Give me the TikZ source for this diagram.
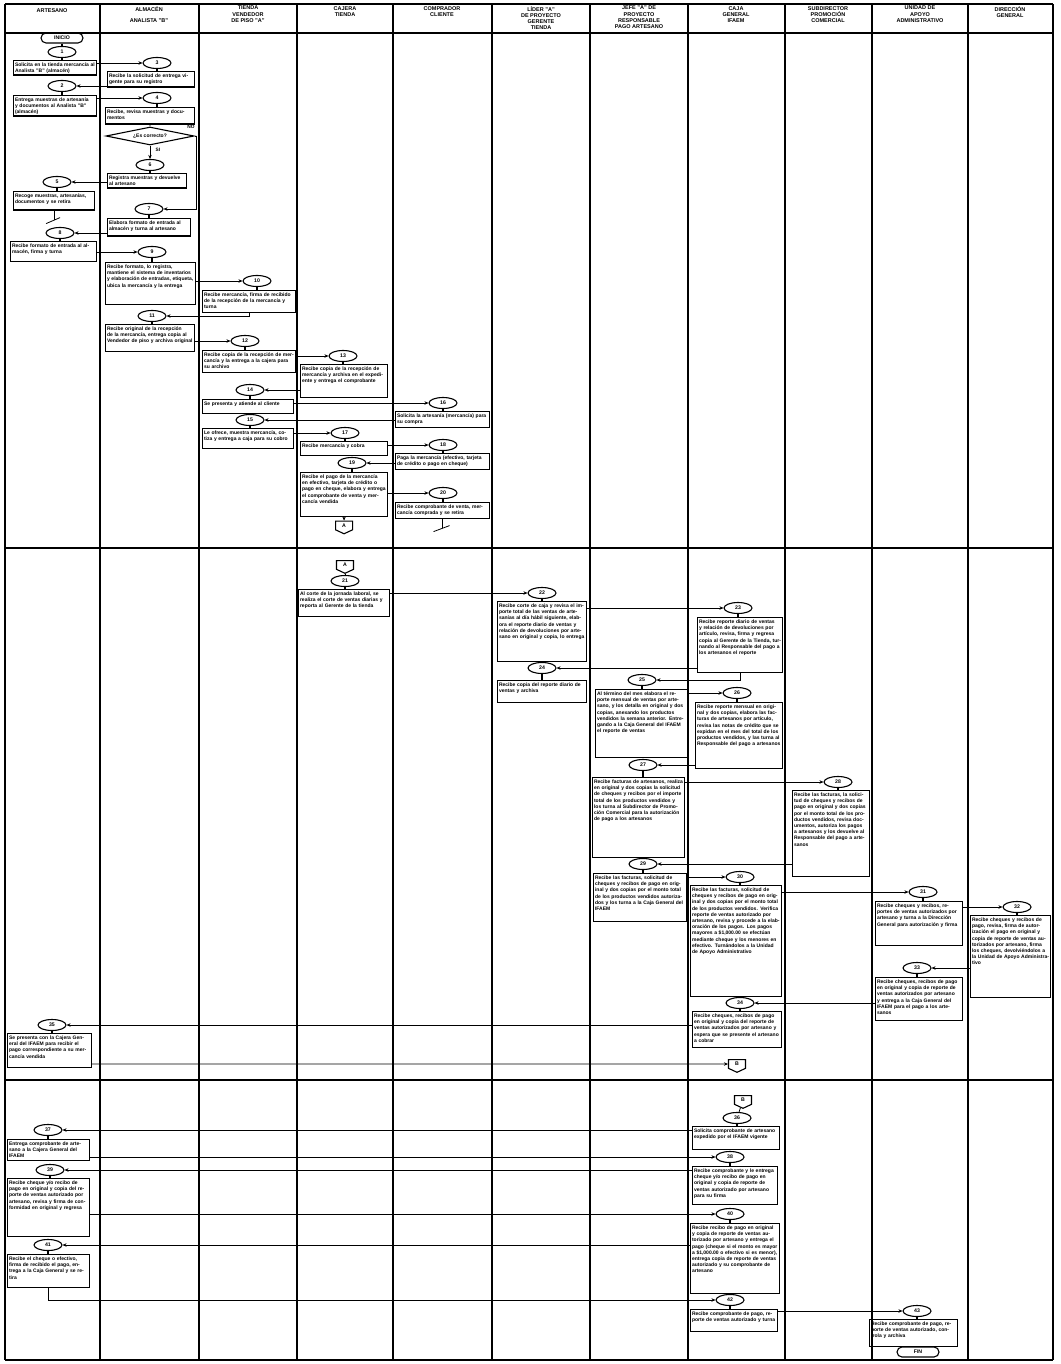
\documentclass[tikz,border=0pt]{standalone}
\usepackage{fontspec}
\setmainfont{Liberation Sans}
\usetikzlibrary{arrows.meta, positioning, shapes.geometric, shapes.symbols}

\begin{document}
\begin{tikzpicture}[
    x=1pt, y=-1pt,
    >={Stealth[length=4pt, width=3.5pt]},
    lane/.style={line width=1.2pt},
    sect/.style={line width=1.9pt},
    head/.style={anchor=north, align=center, inner sep=0pt,
                 font=\fontsize{5.5}{6.3}\selectfont\bfseries},
    num/.style={draw, ellipse, line width=1.1pt, minimum width=28pt,
                minimum height=11pt, inner sep=0pt,
                font=\fontsize{5.2}{5.2}\selectfont\bfseries},
    proc/.style={draw, line width=1.1pt, anchor=north west, align=left,
                 inner sep=1.5pt, text height=4.5pt,
                 font=\fontsize{5}{6.2}\selectfont\bfseries},
    bh/.style={text depth=#1},
    term/.style={draw, line width=1.1pt, rounded corners=5pt, minimum width=42pt,
                 minimum height=10pt, inner sep=0pt,
                 font=\fontsize{5.2}{5.2}\selectfont\bfseries},
    offp/.style={draw, line width=1.1pt, signal, signal to=south,
                 signal pointer angle=130, minimum width=17pt,
                 minimum height=10pt, inner sep=1pt,
                 font=\fontsize{5.2}{5.2}\selectfont\bfseries},
    lbl/.style={font=\fontsize{4.8}{5}\selectfont\bfseries, inner sep=0pt},
    tab/.style={line width=2pt},
    flow/.style={->, line width=0.8pt}
  ]
  \useasboundingbox (0,0) rectangle (1060,1364);

  % Lanes and headers
  \foreach \x in {5,100,199,297,393,492,590,688,785,872,968,1053}
    \draw[lane] (\x,4) -- (\x,1360);
  \draw[lane] (5,4) -- (1053,4);
  \draw[lane] (5,33) -- (1053,33);
  \draw[sect] (5,548) -- (1053,548);
  \draw[sect] (5,1080) -- (1053,1080);
  \draw[lane] (5,1360) -- (1053,1360);
  \foreach \i/\x/\t in {
    1/52/{\\ARTESANO}, 2/149/{ALMACÉN\\[5pt]ANALISTA "B"},
    3/248/{TIENDA\\VENDEDOR\\DE PISO "A"}, 4/345/{CAJERA\\TIENDA},
    5/442/{COMPRADOR\\CLIENTE}, 6/541/{LÍDER "A"\\DE PROYECTO\\GERENTE\\TIENDA},
    7/639/{JEFE "A" DE\\PROYECTO\\RESPONSABLE\\PAGO ARTESANO},
    8/736/{CAJA\\GENERAL\\IFAEM}, 9/828/{SUBDIRECTOR\\PROMOCIÓN\\COMERCIAL},
    10/920/{UNIDAD DE\\APOYO\\ADMINISTRATIVO}, 11/1010/{DIRECCIÓN\\GENERAL}} {
    \node[head] (h\i) at (\x,6) {\t};
  }

  % Recepcion de mercancia
  \node[term] (ini) at (62,38) {INICIO};
  \node[num] (c1) at (62,52) {1};
  \node[proc, text width=80pt, bh=7pt] (b1) at (13,60)
    {Solicita en la tienda mercancía al Analista "B" (almacén)};
  \node[num] (c3) at (157,63) {3};
  \node[proc, text width=84pt, bh=8pt] (b3) at (107,71)
    {Recibe la solicitud de entrega vigente para su registro};
  \node[num] (c2) at (62,86) {2};
  \node[proc, text width=80pt, bh=13pt] (b2) at (13,95)
    {Entrega muestras de artesanía y documentos al Analista "B" (almacén)};
  \node[num] (c4) at (157,98) {4};
  \node[proc, text width=86pt, bh=9pt] (b4) at (105,107)
    {Recibe, revisa muestras y documentos};
  \node[draw, diamond, aspect=5, line width=1.1pt, minimum width=88pt,
        minimum height=18pt, inner sep=0pt, font=\fontsize{5}{5}\selectfont\bfseries]
    (d) at (150,136) {¿Es correcto?};
  \node[lbl] (no) at (191,127) {NO};
  \node[lbl] (si) at (158,150) {SI};
  \node[num] (c6) at (150,165) {6};
  \node[proc, text width=76pt, bh=7pt] (b6) at (107,173)
    {Registra muestras y devuelve al artesano};
  \node[num] (c5) at (57,182) {5};
  \node[proc, text width=78pt, bh=11pt] (b5) at (13,191)
    {Recoge muestras, artesanías, documentos y se retira};
  \node[num] (c7) at (149,209) {7};
  \node[proc, text width=80pt, bh=10pt] (b7) at (107,218)
    {Elabora formato de entrada al almacén y turna al artesano};
  \node[num] (c8) at (60,233) {8};
  \node[proc, text width=83pt, bh=12pt] (b8) at (10,241)
    {Recibe formato de entrada al almacén, firma y turna};
  \node[num] (c9) at (152,252) {9};
  \node[proc, text width=87pt, bh=34pt] (b9) at (105,262)
    {Recibe formato, lo registra, mantiene el sistema de inventarios y
     elaboración de entradas, etiqueta, ubica la mercancía y la entrega};
  \node[num] (c10) at (257,281) {10};
  \node[proc, text width=90pt, bh=14pt] (b10) at (202,290)
    {Recibe mercancía, firma de recibido de la recepción de la mercancía y turna};
  \node[num] (c11) at (152,316) {11};
  \node[proc, text width=86pt, bh=19pt] (b11) at (105,324)
    {Recibe original de la recepción de la mercancía, entrega copia al
     Vendedor de piso y archiva original};
  \node[num] (c12) at (245,341) {12};
  \node[proc, text width=90pt, bh=14pt] (b12) at (202,350)
    {Recibe copia de la recepción de mercancía y la entrega a la cajera
     para su archivo};
  \node[num] (c13) at (343,356) {13};
  \node[proc, text width=84pt, bh=25pt] (b13) at (300,364)
    {Recibe copia de la recepción de mercancía y archiva en el expediente
     y entrega el comprobante};

  % Venta en tienda
  \node[num] (c14) at (250,390) {14};
  \node[proc, text width=88pt, bh=6pt] (b14) at (202,399)
    {Se presenta y atiende al cliente};
  \node[num] (c16) at (443,403) {16};
  \node[proc, text width=91pt, bh=8pt] (b16) at (395,411)
    {Solicita la artesanía (mercancía) para su compra};
  \node[num] (c15) at (250,420) {15};
  \node[proc, text width=88pt, bh=12pt] (b15) at (202,428)
    {Le ofrece, muestra mercancía, cotiza y entrega a caja para su cobro};
  \node[num] (c17) at (345,433) {17};
  \node[proc, text width=84pt, bh=6pt] (b17) at (300,441)
    {Recibe mercancía y cobra};
  \node[num] (c18) at (443,445) {18};
  \node[proc, text width=91pt, bh=8pt] (b18) at (395,453)
    {Paga la mercancía (efectivo, tarjeta de crédito o pago en cheque)};
  \node[num] (c19) at (352,463) {19};
  \node[proc, text width=84pt, bh=36pt] (b19) at (300,472)
    {Recibe el pago de la mercancía en efectivo, tarjeta de crédito o pago
     en cheque, elabora y entrega el comprobante de venta y mercancía vendida};
  \node[num] (c20) at (443,493) {20};
  \node[proc, text width=91pt, bh=8pt] (b20) at (395,502)
    {Recibe comprobante de venta, mercancía comprada y se retira};
  \node[offp, below=4pt of b19] (offA1) {A};

  % Corte y reportes
  \node[offp] (offA2) at (345,565) {A};
  \node[num] (c21) at (345,581) {21};
  \node[proc, text width=88pt, bh=19pt] (b21) at (298,589)
    {Al corte de la jornada laboral, se realiza el corte de ventas diarias
     y reporta al Gerente de la tienda};
  \node[num] (c22) at (542,593) {22};
  \node[proc, text width=86pt, bh=52pt] (b22) at (497,601)
    {Recibe corte de caja y revisa el importe total de las ventas de
     artesanías al día hábil siguiente, elabora el reporte diario de ventas
     y relación de devoluciones por artesano en original y copia, lo entrega};
  \node[num] (c23) at (738,608) {23};
  \node[proc, text width=82pt, bh=47pt] (b23) at (697,617)
    {Recibe reporte diario de ventas y relación de devoluciones por
     artículo, revisa, firma y regresa copia al Gerente de la Tienda,
     turnando al Responsable del pago a los artesanos el reporte};
  \node[num] (c24) at (542,668) {24};
  \node[proc, text width=86pt, bh=14pt] (b24) at (497,680)
    {Recibe copia del reporte diario de ventas y archiva};
  \node[num] (c25) at (642,680) {25};
  \node[proc, text width=89pt, bh=60pt] (b25) at (595,689)
    {Al término del mes elabora el reporte mensual de ventas por artesano,
     y los detalla en original y dos copias, anexando los productos
     vendidos la semana anterior. Entregando a la Caja General del IFAEM
     el reporte de ventas};
  \node[num] (c26) at (737,693) {26};
  \node[proc, text width=84pt, bh=58pt] (b26) at (695,702)
    {Recibe reporte mensual en original y dos copias, elabora las facturas
     de artesanos por artículo, revisa las notas de crédito que se expidan
     en el mes del total de los productos vendidos, y las turna al
     Responsable del pago a artesanos};
  \node[num] (c27) at (643,765) {27};
  \node[proc, text width=89pt, bh=72pt] (b27) at (592,777)
    {Recibe facturas de artesanos, realiza en original y dos copias la
     solicitud de cheques y recibos por el importe total de los productos
     vendidos y los turna al Subdirector de Promoción Comercial para la
     autorización de pago a los artesanos};
  \node[num] (c28) at (838,782) {28};
  \node[proc, text width=74pt, bh=78pt] (b28) at (792,790)
    {Recibe las facturas, la solicitud de cheques y recibos de pago en
     original y dos copias por el monto total de los productos vendidos,
     revisa documentos, autoriza los pagos a artesanos y los devuelve al
     Responsable del pago a artesanos};
  \node[num] (c29) at (643,864) {29};
  \node[proc, text width=90pt, bh=40pt] (b29) at (593,873)
    {Recibe las facturas, solicitud de cheques y recibos de pago en
     original y dos copias por el monto total de los productos vendidos
     autorizados y los turna a la Caja General del IFAEM};
  \node[num] (c30) at (740,877) {30};
  \node[proc, text width=88pt, bh=103pt] (b30) at (690,885)
    {Recibe las facturas, solicitud de cheques y recibos de pago en
     original y dos copias por el monto total de los productos vendidos.
     Verifica reporte de ventas autorizado por artesano, revisa y procede
     a la elaboración de los pagos. Los pagos mayores a \$1,000.00 se
     efectúan mediante cheque y los menores en efectivo. Turnándolos a la
     Unidad de Apoyo Administrativo};
  \node[num] (c31) at (923,892) {31};
  \node[proc, text width=84pt, bh=36pt] (b31) at (875,901)
    {Recibe cheques y recibos, reportes de ventas autorizados por artesano
     y turna a la Dirección General para autorización y firma};
  \node[num] (c32) at (1017,907) {32};
  \node[proc, text width=77pt, bh=74pt] (b32) at (970,915)
    {Recibe cheques y recibos de pago, revisa, firma de autorización el
     pago en original y copia de reporte de ventas autorizados por
     artesano, firma los cheques, devolviéndolos a la Unidad de Apoyo
     Administrativo};
  \node[num] (c33) at (917,968) {33};
  \node[proc, text width=84pt, bh=35pt] (b33) at (875,977)
    {Recibe cheques, recibos de pago en original y copia de reporte de
     ventas autorizados por artesano y entrega a la Caja General del
     IFAEM para el pago a los artesanos};
  \node[num] (c34) at (740,1003) {34};
  \node[proc, text width=86pt, bh=28pt] (b34) at (692,1011)
    {Recibe cheques, recibos de pago en original y copia del reporte de
     ventas autorizados por artesano y espera que se presente el artesano
     a cobrar};
  \node[num] (c35) at (52,1025) {35};
  \node[proc, text width=81pt, bh=26pt] (b35) at (7,1033)
    {Se presenta con la Cajera General del IFAEM para recibir el pago
     correspondiente a su mercancía vendida};
  \node[offp] (offB1) at (737,1064) {B};

  % Pago al artesano
  \node[offp] (offB2) at (743,1100) {B};
  \node[num] (c36) at (737,1118) {36};
  \node[proc, text width=84pt, bh=15pt] (b36) at (692,1126)
    {Solicita comprobante de artesano expedido por el IFAEM vigente};
  \node[num] (c37) at (48,1130) {37};
  \node[proc, text width=79pt, bh=13pt] (b37) at (7,1139)
    {Entrega comprobante de artesano a la Cajera General del IFAEM};
  \node[num] (c38) at (730,1157) {38};
  \node[proc, text width=82pt, bh=30pt] (b38) at (692,1166)
    {Recibe comprobante y le entrega cheque y/o recibo de pago en original
     y copia de reporte de ventas autorizado por artesano para su firma};
  \node[num] (c39) at (50,1170) {39};
  \node[proc, text width=79pt, bh=50pt] (b39) at (7,1178)
    {Recibe cheque y/o recibo de pago en original y copia del reporte de
     ventas autorizado por artesano, revisa y firma de conformidad en
     original y regresa};
  \node[num] (c40) at (730,1214) {40};
  \node[proc, text width=86pt, bh=62pt] (b40) at (690,1223)
    {Recibe recibo de pago en original y copia de reporte de ventas
     autorizado por artesano y entrega el pago (cheque si el monto es mayor
     a \$1,000.00 o efectivo si es menor), entrega copia de reporte de
     ventas autorizado y su comprobante de artesano};
  \node[num] (c41) at (48,1245) {41};
  \node[proc, text width=79pt, bh=25pt] (b41) at (7,1254)
    {Recibe el cheque o efectivo, firma de recibido el pago, entrega a la
     Caja General y se retira};
  \node[num] (c42) at (730,1300) {42};
  \node[proc, text width=84pt, bh=14pt] (b42) at (690,1309)
    {Recibe comprobante de pago, reporte de ventas autorizado y turna};
  \node[num] (c43) at (917,1311) {43};
  \node[proc, text width=85pt, bh=19pt] (b43) at (869,1319)
    {Recibe comprobante de pago, reporte de ventas autorizado, controla y
     archiva};
  \node[term] (fin) at (918,1352) {FIN};

  % Tabs under the step numbers
  \draw[tab] (ini) -- (c1);
  \foreach \n in {1,...,43}
    \draw[tab] (c\n.south) -- (c\n.south |- b\n.north);

  % Flow
  \draw[flow] (b1.east |- c3) -- (c3);
  \draw[flow] (b3.west |- c2) -- (c2);
  \draw[flow] (b2.east |- c4) -- (c4);
  \draw[line width=0.8pt] (b4.south) -- (d.north);
  \draw[flow] (d.south) -- (c6);
  \draw[flow] (d.east) -- ++(2,0) |- (c7);
  \draw[flow] (b6.west |- c5) -- (c5);
  \draw[flow] (b7.west |- c8) -- (c8);
  \draw[flow] (b8.east |- c9) -- (c9);
  \draw[flow] (b9.east |- c10) -- (c10);
  \draw[flow] (b10.south) |- (c11);
  \draw[flow] (b11.east |- c12) -- (c12);
  \draw[flow] (b12.east |- c13) -- (c13);
  \draw[flow] (b13.west |- c14) -- (c14);
  \draw[flow] (b14.east |- c16) -- (c16);
  \draw[flow] (b16.west |- c15) -- (c15);
  \draw[flow] (b15.east |- c17) -- (c17);
  \draw[flow] (b17.east |- c18) -- (c18);
  \draw[flow] (b18.west |- c19) -- (c19);
  \draw[flow] (b19.east |- c20) -- (c20);
  \draw[flow] (b19.south) -- (offA1);
  \draw[line width=0.8pt] (offA2) -- (c21);
  \draw[flow] (b21.east |- c22) -- (c22);
  \draw[flow] (b22.east |- c23) -- (c23);
  \draw[flow] (b23.west |- c24) -- (c24);
  \draw[flow] (b23.south) |- (c25);
  \draw[flow] (b25.east |- c26) -- (c26);
  \draw[flow] (b26.west |- c27) -- (c27);
  \draw[flow] (b27.east |- c28) -- (c28);
  \draw[flow] (b28.west |- c29) -- (c29);
  \draw[flow] (b29.east |- c30) -- (c30);
  \draw[flow] (b30.east |- c31) -- (c31);
  \draw[flow] (b31.east |- c32) -- (c32);
  \draw[flow] (b32.west |- c33) -- (c33);
  \draw[flow] (b33.west |- c34) -- (c34);
  \draw[flow] (b34.west |- c35) -- (c35);
  \draw[flow] (b35.east |- offB1) -- (offB1);
  \draw[line width=0.8pt] (offB2) -- (c36);
  \draw[flow] (b36.west |- c37) -- (c37);
  \draw[flow] (b37.east |- c38) -- (c38);
  \draw[flow] (b38.west |- c39) -- (c39);
  \draw[flow] (b39.east |- c40) -- (c40);
  \draw[flow] (b40.west |- c41) -- (c41);
  \draw[flow] (b41.south) |- (c42);
  \draw[flow] (b42.east |- c43) -- (c43);

  % End marks
  \draw[line width=0.8pt] (b5.south) -- ++(0,9);
  \draw[line width=0.8pt] (b5.south) ++(-8,13) -- ++(14,-6);
  \draw[line width=0.8pt] (b20.south) -- ++(0,9);
  \draw[line width=0.8pt] (b20.south) ++(-9,13) -- ++(16,-6);
\end{tikzpicture}
\end{document}
